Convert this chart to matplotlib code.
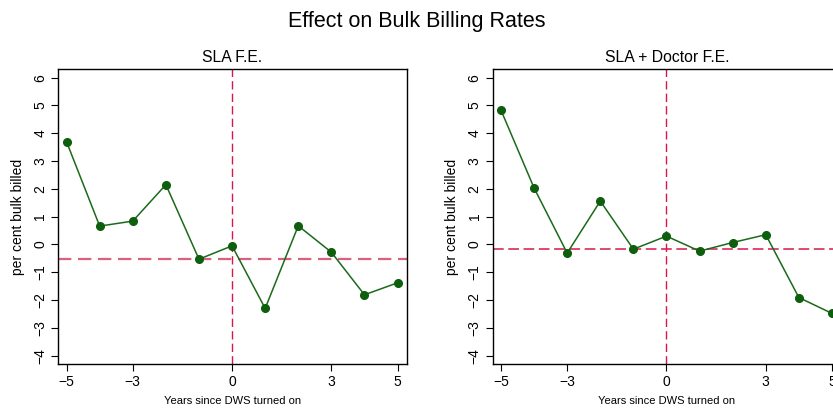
import numpy as np
import matplotlib
matplotlib.use("Agg")
import matplotlib.pyplot as plt

# Event-time coefficients
years = [-5, -4, -3, -2, -1, 0, 1, 2, 3, 4, 5]
sla_fe = [3.69, 0.66, 0.84, 2.15, -0.53, -0.05, -2.30, 0.67, -0.28, -1.81, -1.38]
sla_doc_fe = [4.83, 2.03, -0.31, 1.56, -0.17, 0.30, -0.24, 0.07, 0.35, -1.91, -2.48]
mean_line = [-0.52, -0.16]
panel_titles = ["SLA F.E.", "SLA + Doctor F.E."]
x_ticks = [-5, -3, 0, 3, 5]
y_ticks = [-4, -3, -2, -1, 0, 1, 2, 3, 4, 5, 6]

plt.rcParams["font.family"] = ["Liberation Sans", "DejaVu Sans"]

fig = plt.figure(figsize=(8.33, 4.09), dpi=100)
fig.text(0.5, 0.947, "Effect on Bulk Billing Rates", ha="center", va="center", fontsize=15.5)

# axes placed in figure fractions; right panel runs off the canvas like the reference
positions = [[0.070, 0.110, 0.418, 0.7206], [0.5915, 0.110, 0.418, 0.7206]]
hline_styles = [
    dict(color="#d9607e", lw=1.6, dashes=(6, 3)),
    dict(color="#d8164a", lw=1.1, dashes=(7, 3)),
]

for i, (vals, title) in enumerate(zip([sla_fe, sla_doc_fe], panel_titles)):
    ax = fig.add_axes(positions[i])
    ax.axvline(0, color="#d8164a", lw=1.0, dashes=(6, 3), zorder=1)
    ax.axhline(mean_line[i], zorder=1, **hline_styles[i])
    ax.plot(years, vals, color="#1b6a1b", lw=1.1, marker="o", ms=5.5,
            markerfacecolor="#0d5e0d", markeredgecolor="#0d5e0d", zorder=3)

    ax.set_xlim(-5.25, 5.27)
    ax.set_ylim(-4.30, 6.30)
    ax.set_xticks(x_ticks)
    ax.set_xticklabels([str(t).replace("-", "\u2212") for t in x_ticks])
    ax.set_yticks(y_ticks)
    ax.set_yticklabels([str(t).replace("-", "\u2212") for t in y_ticks],
                       rotation=90, va="center")
    ax.tick_params(direction="out", length=5, width=0.8, labelsize=10, pad=3)
    for s in ax.spines.values():
        s.set_linewidth(1.0)

    ax.set_title(title, fontsize=11.3, pad=5)
    ax.set_xlabel("Years since DWS turned on", fontsize=8, labelpad=5)
    ax.set_ylabel("per cent bulk billed", fontsize=10, labelpad=6)

fig.savefig("out.png", dpi=100)
